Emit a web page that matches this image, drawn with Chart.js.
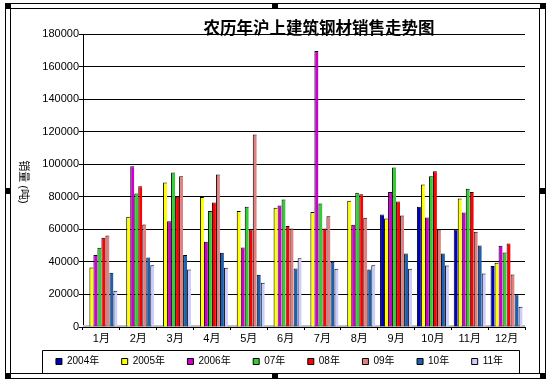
<!DOCTYPE html>
<html>
<head>
<meta charset="utf-8">
<script src="https://cdn.jsdelivr.net/npm/chart.js@4/dist/chart.umd.min.js"></script>
<style>
  html, body { margin: 0; padding: 0; background: #fff; }
  #salesChart { display: block; }
</style>
</head>
<body>
<canvas id="salesChart" width="551" height="382"></canvas>
<script>
const months = ['1月', '2月', '3月', '4月', '5月', '6月', '7月', '8月', '9月', '10月', '11月', '12月'];
const seriesNames = ['2004年', '2005年', '2006年', '07年', '08年', '09年', '10年', '11年'];
const seriesColors = ['#0000C0', '#FFFF00', '#CC00CC', '#33CC33', '#FF0000', '#E08080', '#1F5FAF', '#CCCCFF'];

// 销量 (吨)
const sales2004 = [null, null, null, null, null, null, null, null, 69100, 73800, 59900, 37400];
const sales2005 = [36600, 67700, 88800, 79800, 71200, 73200, 70700, 77500, 66700, 87500, 78900, 39400];
const sales2006 = [44200, 98800, 65000, 52300, 48900, 74600, 169500, 62800, 83000, 67300, 70400, 49900];
const sales07 = [48700, 82000, 94900, 71200, 73800, 78300, 75900, 82400, 98000, 92600, 84900, 45800];
const sales08 = [54800, 86500, 80000, 76500, 59900, 62100, 60500, 81600, 77100, 95700, 83000, 51300];
const sales09 = [56200, 63000, 92600, 93700, 118200, 60500, 68100, 67100, 68500, 59900, 58500, 32300];
const sales10 = [33300, 42700, 44200, 45600, 32100, 36000, 40100, 35400, 45200, 45200, 50100, 20100];
const sales11 = [22300, 38000, 35400, 36400, 27200, 42300, 35800, 38000, 35800, 37800, 32900, 12500];

const yTicks = [0, 20000, 40000, 60000, 80000, 100000, 120000, 140000, 160000, 180000];

const allSales = [sales2004, sales2005, sales2006, sales07, sales08, sales09, sales10, sales11];
const FONT = "'Liberation Sans', 'Noto Sans CJK SC', sans-serif";
const LEGEND_PAD = 22.5;

Chart.defaults.font.family = FONT;
Chart.defaults.color = '#000';

// white page, title, axis title, legend box and the selection frame
const decorations = {
    id: 'decorations',
    afterLayout(chart) {
        // pull the legend row up closer to the month labels
        chart.legend.top -= 11;
        chart.legend.bottom -= 11;
    },
    beforeDraw(chart) {
        const ctx = chart.ctx;
        ctx.save();
        ctx.fillStyle = '#fff';
        ctx.fillRect(0, 0, chart.width, chart.height);
        ctx.restore();
    },
    beforeDatasetsDraw(chart) {
        const { ctx, chartArea } = chart;
        ctx.save();
        ctx.fillStyle = '#c0c0c0';
        ctx.fillRect(chartArea.left, chartArea.bottom - 2, chartArea.right - chartArea.left, 2);
        ctx.restore();
    },
    afterDraw(chart) {
        const ctx = chart.ctx;
        ctx.save();

        ctx.fillStyle = '#000';
        ctx.font = "bold 16.5px 'Noto Sans CJK SC', sans-serif";
        ctx.textAlign = 'center';
        ctx.textBaseline = 'middle';
        ctx.fillText('农历年沪上建筑钢材销售走势图', 319, 28);

        ctx.save();
        ctx.translate(23, 182);
        ctx.rotate(Math.PI / 2);
        ctx.font = "11px " + FONT;
        ctx.fillText('销量 (吨)', 0, 0);
        ctx.restore();

        // legend frame
        const lg = chart.legend;
        const cy = lg.top + LEGEND_PAD + 5;
        const fy = Math.round(cy - 11.5) + 0.5;
        ctx.strokeStyle = '#000';
        ctx.lineWidth = 1;
        ctx.beginPath();
        ctx.moveTo(lg.left + 21.5, 373.5);
        ctx.lineTo(lg.left + 21.5, fy);
        ctx.lineTo(lg.right - 18.5, fy);
        ctx.lineTo(lg.right - 18.5, 373.5);
        ctx.stroke();

        // chart frame with handles
        ctx.strokeRect(5.5, 3.5, 540, 375);
        ctx.strokeRect(10.5, 8.5, 529, 365);
        const hs = [[5, 3], [540, 3], [5, 373], [540, 373], [272, 3], [272, 373], [5, 188], [540, 188]];
        hs.forEach(([x, y]) => ctx.fillRect(x, y, 6, 6));
        ctx.restore();
    }
};

new Chart(document.getElementById('salesChart'), {
    type: 'bar',
    data: {
        labels: months,
        datasets: seriesNames.map((name, i) => ({
            label: name,
            data: allSales[i],
            backgroundColor: seriesColors[i],
            borderColor: '#000',
            borderWidth: { top: 1, left: 1, right: 0, bottom: 0 },
            borderSkipped: false,
            categoryPercentage: 0.87,
            barPercentage: 1.0
        }))
    },
    options: {
        responsive: false,
        animation: false,
        devicePixelRatio: 1,
        layout: { padding: { top: 34, left: 21, right: 13, bottom: 0 } },
        plugins: {
            title: { display: false },
            tooltip: { enabled: false },
            legend: {
                position: 'bottom',
                maxHeight: 37,
                labels: {
                    boxWidth: 6,
                    boxHeight: 6,
                    padding: LEGEND_PAD,
                    font: { size: 10 },
                    generateLabels: chart => chart.data.datasets.map((ds, i) => ({
                        text: ds.label,
                        fillStyle: ds.backgroundColor,
                        strokeStyle: '#000',
                        lineWidth: 1,
                        hidden: false,
                        datasetIndex: i
                    }))
                }
            }
        },
        scales: {
            x: {
                offset: true,
                grid: { display: true, drawOnChartArea: false, drawTicks: true, tickLength: 3, color: '#000' },
                border: { color: '#000' },
                ticks: { font: { size: 11 }, padding: 2, maxRotation: 0, autoSkip: false },
                afterFit: s => { s.height = 18; }
            },
            y: {
                min: 0,
                max: 180000,
                afterBuildTicks: s => { s.ticks = yTicks.map(v => ({ value: v })); },
                grid: { color: '#000', tickLength: 4 },
                border: { color: '#000' },
                ticks: { font: { size: 11 }, padding: 0, callback: v => String(v) },
                afterFit: s => { s.width = 62; }
            },
            yRight: {
                axis: 'y',
                position: 'right',
                min: 0,
                max: 180000,
                grid: { display: false },
                border: { display: false },
                ticks: { display: false },
                afterFit: s => { s.width = 13; }
            }
        }
    },
    plugins: [decorations]
});
</script>
</body>
</html>
